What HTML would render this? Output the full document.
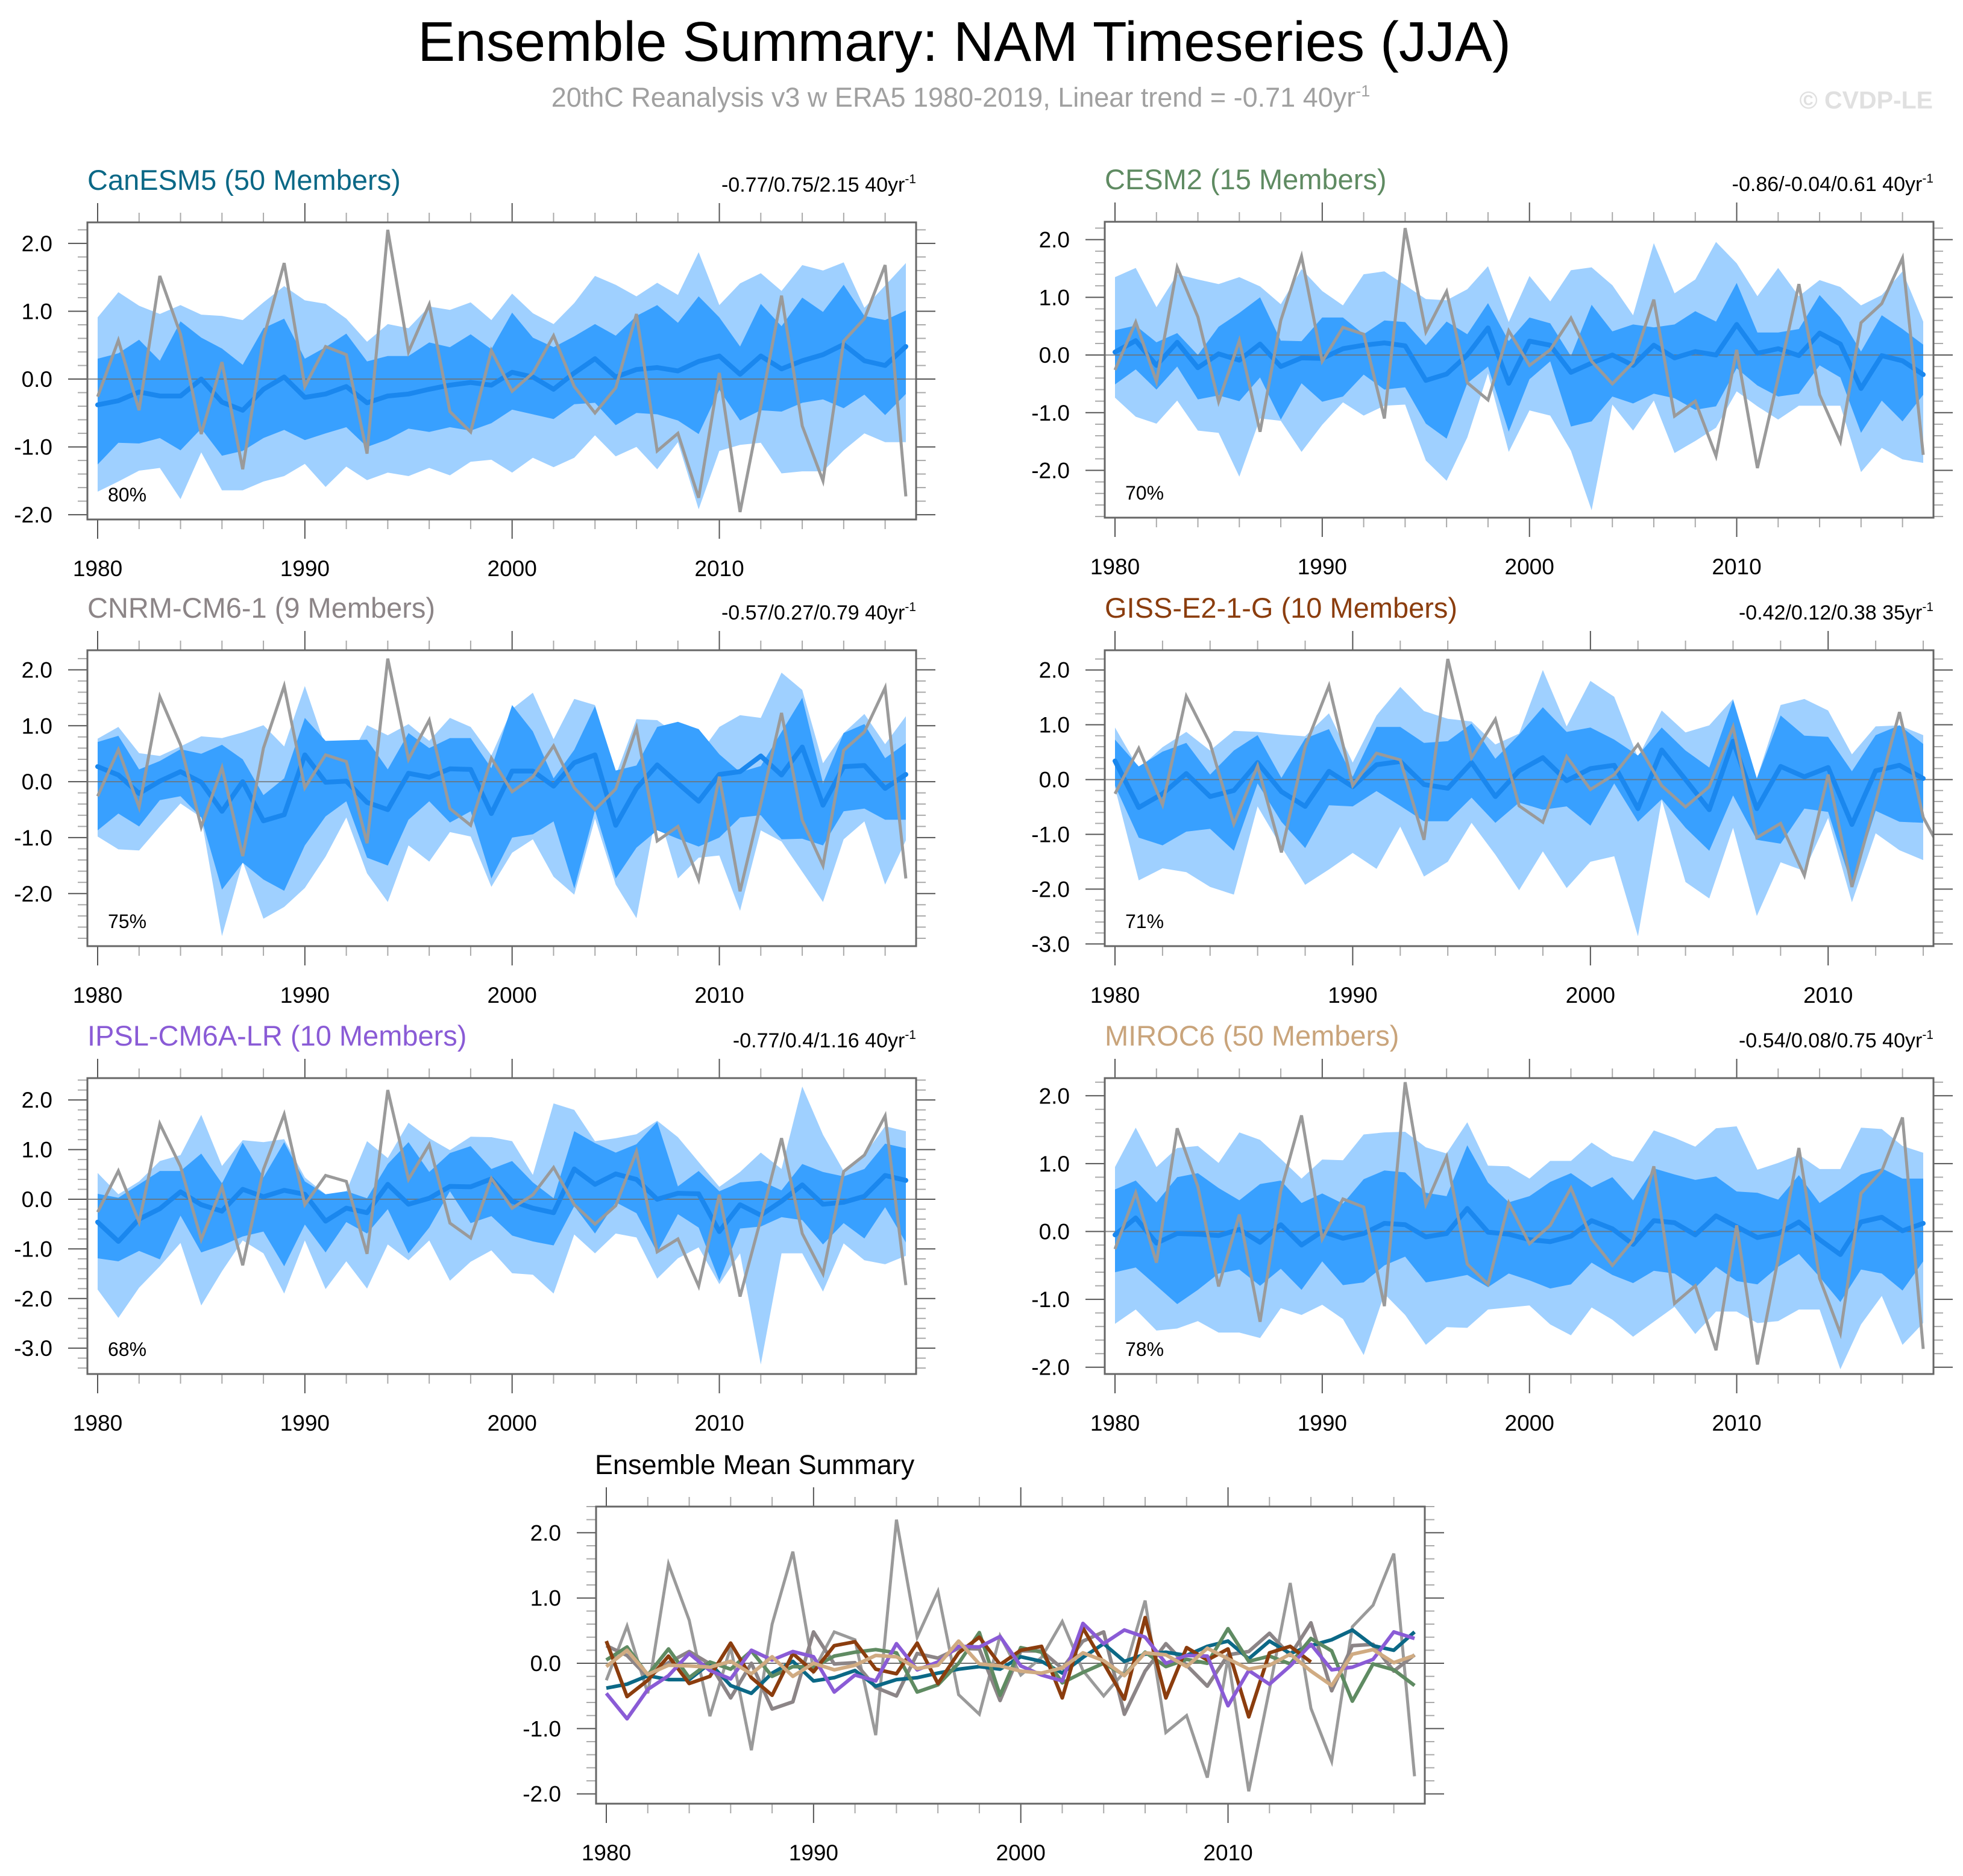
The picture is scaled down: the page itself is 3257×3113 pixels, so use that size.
<!DOCTYPE html>
<html><head><meta charset="utf-8"><title>Ensemble Summary: NAM Timeseries (JJA)</title>
<style>
html,body{margin:0;padding:0;background:#fff;}
svg{display:block;font-family:"Liberation Sans",Arial,sans-serif;}
</style></head>
<body>
<svg id="chart" xmlns="http://www.w3.org/2000/svg" width="3257" height="3113" viewBox="0 0 3257 3113">
<rect x="0" y="0" width="3257" height="3113" fill="#fff"/>
<text x="1600" y="101" font-size="93" text-anchor="middle" fill="#000">Ensemble Summary: NAM Timeseries (JJA)</text>
<text x="1594" y="177" font-size="45" text-anchor="middle" fill="#a0a0a0">20thC Reanalysis v3 w ERA5 1980-2019, Linear trend = -0.71 40yr<tspan dy="-17" font-size="27">-1</tspan></text>
<text x="3207" y="180" font-size="41" font-weight="bold" text-anchor="end" fill="#e0e0e0">© CVDP-LE</text>
<g id="panels"></g>
</svg>
<script>
// ---------- data ----------
const years40 = Array.from({length:40},(_,i)=>1980+i);
const years35 = Array.from({length:35},(_,i)=>1980+i);
const obsValues = [-0.26,0.57,-0.46,1.52,0.66,-0.81,0.25,-1.33,0.6,1.71,-0.11,0.48,0.36,-1.1,2.2,0.4,1.1,-0.48,-0.78,0.42,-0.18,0.09,0.64,-0.11,-0.5,-0.13,0.96,-1.06,-0.8,-1.75,0.09,-1.96,-0.4,1.23,-0.69,-1.5,0.56,0.89,1.68,-1.73];

const canMean = [-0.38,-0.32,-0.19,-0.25,-0.25,0.0,-0.34,-0.46,-0.15,0.03,-0.27,-0.22,-0.11,-0.35,-0.25,-0.22,-0.15,-0.09,-0.05,-0.09,0.10,0.03,-0.15,0.09,0.30,0.03,0.14,0.17,0.12,0.26,0.34,0.07,0.34,0.15,0.27,0.36,0.51,0.27,0.2,0.48];
const canDarkHi = [0.3,0.38,0.58,0.27,0.85,0.61,0.45,0.21,0.75,0.89,0.3,0.47,0.67,0.26,0.34,0.34,0.54,0.47,0.66,0.44,0.98,0.61,0.47,0.63,0.81,0.64,0.93,1.09,0.83,1.22,0.91,0.48,1.11,0.78,1.2,0.99,1.39,0.93,0.87,1.01];
const canDarkLo = [-1.26,-0.94,-0.95,-0.87,-1.05,-0.73,-1.13,-1.06,-0.87,-0.75,-0.9,-0.8,-0.71,-1.0,-0.89,-0.73,-0.78,-0.71,-0.76,-0.65,-0.45,-0.52,-0.59,-0.37,-0.35,-0.68,-0.5,-0.52,-0.61,-0.81,-0.16,-0.61,-0.46,-0.48,-0.35,-0.3,-0.43,-0.23,-0.53,-0.22];
const canLightHi = [0.91,1.28,1.08,0.96,1.09,0.95,0.93,0.87,1.13,1.37,1.16,1.11,0.89,0.55,0.81,0.75,1.07,1.02,1.13,0.87,1.26,0.97,0.81,1.12,1.52,1.39,1.22,1.42,1.24,1.87,1.09,1.41,1.56,1.3,1.68,1.6,1.72,1.05,1.38,1.71];
const canLightLo = [-1.66,-1.51,-1.35,-1.31,-1.77,-1.08,-1.64,-1.64,-1.51,-1.43,-1.25,-1.59,-1.29,-1.49,-1.38,-1.43,-1.31,-1.42,-1.22,-1.19,-1.38,-1.16,-1.3,-1.16,-0.83,-1.14,-1.0,-1.33,-0.93,-1.92,-1.06,-0.97,-0.94,-1.39,-1.36,-1.36,-1.05,-0.8,-0.93,-0.93];

const cesMean = [0.05,0.25,-0.18,0.22,-0.22,0.02,-0.09,0.19,-0.2,-0.05,-0.06,0.11,0.17,0.21,0.16,-0.44,-0.33,0,0.47,-0.49,0.24,0.17,-0.3,-0.14,0,-0.18,0.17,-0.05,0.06,0,0.53,0.03,0.11,-0.01,0.38,0.19,-0.58,-0.01,-0.1,-0.34];
const cesDarkHi = [0.43,0.51,0.22,0.38,0,0.49,0.73,1.0,0.25,0.24,0.65,0.65,0.36,0.6,0.57,0.17,0.58,0.36,0.9,0.24,0.65,0.55,-0.02,0.87,0.41,0.53,0.48,0.53,0.76,0.58,1.25,0.39,0.39,0.45,1.04,0.65,0.06,0.69,0.45,0.18];
const cesDarkLo = [-0.51,-0.25,-0.6,-0.2,-0.77,-0.7,-0.8,-0.39,-1.12,-0.49,-0.81,-0.72,-0.34,-0.6,-0.56,-1.19,-1.45,-0.49,-0.2,-1.33,-0.42,-0.11,-1.24,-1.15,-0.72,-0.84,-0.67,-0.75,-0.95,-0.89,-0.23,-0.53,-0.72,-0.67,-0.18,-0.39,-1.35,-0.79,-1.15,-0.69];
const cesLightHi = [1.35,1.51,0.83,1.4,1.31,1.23,1.35,1.19,0.88,1.49,1.11,0.86,1.4,1.45,1.21,0.97,0.95,1.14,1.54,0.57,1.37,0.93,1.47,1.52,1.21,0.69,1.94,1.07,1.31,1.96,1.59,1.02,1.51,1.02,1.3,1.18,0.86,1.04,1.45,0.58];
const cesLightLo = [-0.74,-1.07,-1.19,-0.79,-1.31,-1.35,-2.11,-1.1,-1.14,-1.68,-1.21,-0.82,-1.05,-0.88,-0.86,-1.83,-2.18,-1.43,-0.32,-1.68,-0.96,-1.05,-1.66,-2.69,-0.86,-1.31,-0.79,-1.7,-1.49,-1.26,-0.63,-0.89,-1.12,-0.88,-0.88,-0.88,-2.03,-1.61,-1.81,-1.87];

const cnrmMean = [0.27,0.12,-0.21,0.01,0.18,-0.01,-0.53,0,-0.7,-0.59,0.48,-0.01,0.01,-0.37,-0.5,0.15,0.08,0.23,0.22,-0.57,0.19,0.19,-0.08,0.34,0.48,-0.78,-0.12,0.3,-0.03,-0.35,0.13,0.18,0.46,0.12,0.62,-0.42,0.27,0.29,-0.12,0.13];
const cnrmDarkHi = [0.71,0.82,0.22,0.37,0.58,0.5,0.66,0.4,-0.24,0.06,1.14,0.73,0.74,0.75,0.22,0.87,0.6,0.78,0.78,0.24,1.37,0.9,0.06,0.57,1.35,0.2,0.29,0.98,1.07,0.94,0.49,0.17,0.28,0.89,1.5,-0.03,0.87,1.03,0.42,0.69];
const cnrmDarkLo = [-0.87,-0.57,-0.8,-0.33,-0.26,-0.64,-1.93,-1.45,-1.75,-1.95,-1.14,-0.62,-0.35,-1.36,-1.5,-0.68,-0.35,-0.73,-0.53,-1.73,-1.0,-0.94,-0.71,-1.91,-0.51,-1.73,-1.18,-0.87,-1.02,-1.16,-1.0,-0.64,-0.6,-1.03,-1.02,-1.14,-0.53,-0.48,-0.68,-0.68];
const cnrmLightHi = [0.77,0.98,0.51,0.46,0.63,0.81,0.78,0.88,1.01,0.63,1.71,0.62,0.31,1.01,0.83,1.03,0.73,1.14,0.98,0.47,1.3,1.59,0.76,1.48,1.37,0.11,1.12,1.1,0.83,0.47,0.98,1.19,1.14,1.95,1.64,0.33,0.87,1.21,0.67,1.17];
const cnrmLightLo = [-0.98,-1.21,-1.23,-0.8,-0.39,-0.64,-2.76,-1.43,-2.45,-2.24,-1.9,-1.34,-0.64,-1.64,-2.15,-1.14,-1.43,-0.9,-0.98,-1.88,-1.27,-1.03,-1.7,-2.02,-0.66,-1.84,-2.44,-0.48,-1.73,-1.36,-1.32,-2.31,-0.87,-1.07,-1.61,-2.15,-1.03,-0.71,-1.84,-1.05];

const gissMean = [0.34,-0.51,-0.26,0.11,-0.31,-0.2,0.31,-0.22,-0.49,0.15,-0.13,0.27,0.33,-0.09,-0.16,0.31,-0.31,0.16,0.4,-0.02,0.2,0.26,-0.53,0.54,0,-0.55,0.7,-0.53,0.24,0.05,0.22,-0.82,0.16,0.26,0.02];
const gissDarkHi = [0.73,0.24,0.51,0.67,0.09,0.53,0.81,0.03,0.75,0.92,0.05,0.96,0.96,0.67,0.7,1.02,0.38,0.82,1.32,0.87,0.95,0.73,0.44,0.95,0.53,0.22,1.45,0.02,1.17,0.8,0.78,0.15,0.81,0.99,0.65];
const gissDarkLo = [-0.11,-1.06,-1.2,-0.95,-0.9,-1.3,-0.07,-0.77,-1.25,-0.47,-0.49,-0.21,-0.48,-0.76,-0.76,-0.33,-0.79,-0.42,-0.55,-0.49,-0.84,-0.07,-0.77,-0.36,-0.88,-1.3,-0.29,-1.1,-1.17,-0.53,-0.59,-1.94,-0.57,-0.77,-0.79];
const gissLightHi = [0.95,0.2,0.59,0.87,0.53,0.89,0.87,0.82,0.79,1.21,0.31,1.17,1.69,1.25,1.11,1.06,0.64,0.84,2.0,0.97,1.8,1.51,0.4,1.26,0.86,0.99,1.47,0.02,1.36,1.47,1.26,0.46,0.97,0.99,0.81];
const gissLightLo = [-0.15,-1.84,-1.62,-1.69,-1.96,-2.1,-0.49,-1.23,-1.92,-1.64,-1.34,-1.63,-0.86,-1.77,-1.5,-0.79,-1.37,-2.02,-1.31,-1.98,-1.5,-1.4,-2.86,-0.37,-1.87,-2.17,-0.88,-2.49,-1.51,-1.67,-0.7,-2.24,-0.98,-1.29,-1.47];

const ipslMean = [-0.46,-0.85,-0.4,-0.19,0.15,-0.11,-0.24,0.2,0.05,0.18,0.1,-0.44,-0.18,-0.27,0.3,-0.1,0.02,0.26,0.25,0.41,-0.04,-0.18,-0.27,0.61,0.3,0.51,0.4,0,0.12,0.11,-0.65,-0.11,-0.32,-0.04,0.29,-0.1,-0.06,0.06,0.48,0.38];
const ipslDarkHi = [0.11,0.03,0.3,0.57,0.57,0.92,0.32,1.14,0.44,1.15,0.36,0.1,0.16,0.02,0.71,1.15,0.55,0.93,1.07,0.61,0.77,0.34,0.02,1.37,1.13,0.94,1.11,1.56,0.26,0.57,0.16,0.34,0.37,0.18,0.71,0.55,0.46,0.61,1.12,1.03];
const ipslDarkLo = [-1.19,-1.25,-1.04,-1.21,-0.33,-1.07,-0.93,-0.75,-0.65,-1.35,-0.51,-1.07,-0.46,-0.69,-0.2,-1.09,-0.57,0.16,-0.48,-0.34,-0.73,-0.85,-0.93,-0.14,-0.69,-0.06,-0.28,-1.07,-0.3,-0.57,-1.64,-0.59,-0.55,-0.36,-0.42,-0.91,-0.48,-0.79,-0.16,-0.87];
const ipslLightHi = [0.53,0.1,0.36,0.77,0.89,1.7,0.67,1.19,1.15,1.21,0.44,0.1,0.16,1.17,0.83,1.54,1.23,0.99,1.26,1.25,1.17,0.49,1.93,1.8,1.17,1.23,1.31,1.58,1.25,0.75,0.25,0.55,0.94,0.61,2.27,1.3,0.57,0.9,1.47,1.37];
const ipslLightLo = [-1.82,-2.39,-1.78,-1.35,-0.88,-2.14,-1.45,-0.83,-1.09,-1.9,-0.83,-1.81,-1.25,-1.8,-0.91,-1.23,-0.83,-1.64,-1.26,-1.03,-1.49,-1.52,-1.9,-0.71,-1.09,-0.69,-0.77,-1.6,-1.19,-0.97,-1.71,-1.09,-3.33,-1.09,-1.09,-1.86,-0.89,-1.23,-1.31,-1.14];

const mirMean = [-0.05,0.2,-0.17,-0.03,-0.04,-0.06,0.03,-0.16,0.1,-0.2,0,-0.1,-0.03,0.12,0.1,-0.08,-0.03,0.34,-0.01,-0.04,-0.12,-0.15,-0.07,0.16,0.04,-0.19,0.16,0.13,-0.05,0.23,0.07,-0.09,-0.03,0.14,-0.12,-0.34,0.14,0.21,0.01,0.12];
const mirDarkHi = [0.62,0.75,0.43,0.8,0.86,0.64,0.46,0.7,0.75,0.42,0.56,0.41,0.77,0.9,0.87,0.57,0.52,1.27,0.72,0.43,0.52,0.73,0.86,0.65,0.8,0.46,0.93,0.84,0.76,0.81,0.59,0.57,0.47,0.83,0.42,0.62,0.84,0.93,0.78,0.78];
const mirDarkLo = [-0.6,-0.53,-0.8,-1.07,-0.86,-0.62,-0.56,-0.8,-0.55,-0.86,-0.44,-0.79,-0.75,-0.5,-0.37,-0.75,-0.7,-0.64,-0.82,-0.62,-0.72,-0.84,-0.78,-0.46,-0.64,-0.76,-0.58,-0.62,-0.83,-0.52,-0.73,-0.78,-0.52,-0.33,-0.67,-1.04,-0.56,-0.62,-0.87,-0.44];
const mirLightHi = [0.95,1.53,0.95,1.23,1.26,1.01,1.46,1.35,1.07,0.78,1.06,1.05,1.43,1.46,1.47,1.24,1.15,1.61,0.97,0.96,0.78,1.04,1.04,1.31,1.11,1.03,1.49,1.38,1.25,1.52,1.55,0.91,1.01,1.13,0.92,0.92,1.53,1.51,1.26,1.16];
const mirLightLo = [-1.36,-1.15,-1.46,-1.43,-1.32,-1.49,-1.49,-1.57,-1.13,-1.23,-1.08,-1.29,-1.82,-0.92,-1.23,-1.67,-1.41,-1.42,-1.15,-1.12,-1.09,-1.37,-1.53,-1.12,-1.3,-1.55,-1.33,-1.11,-1.51,-1.18,-1.18,-1.35,-1.32,-1.15,-1.15,-2.03,-1.37,-0.95,-1.67,-1.35];

const yTickValues = [2,1,0,-1,-2,-3];
const xTickYears = [1980,1990,2000,2010];
const panelTitles = ["CanESM5 (50 Members)","CESM2 (15 Members)","CNRM-CM6-1 (9 Members)","GISS-E2-1-G (10 Members)","IPSL-CM6A-LR (10 Members)","MIROC6 (50 Members)"];
const trendLabels = ["-0.77/0.75/2.15 40yr","-0.86/-0.04/0.61 40yr","-0.57/0.27/0.79 40yr","-0.42/0.12/0.38 35yr","-0.77/0.4/1.16 40yr","-0.54/0.08/0.75 40yr"];
const percentLabels = ["80%","70%","75%","71%","68%","78%"];

// ---------- layout / style (not data) ----------
const NS="http://www.w3.org/2000/svg";
const root=document.getElementById('panels');
function mk(tag,attrs,parent){const e=document.createElementNS(NS,tag);for(const k in attrs)e.setAttribute(k,attrs[k]);(parent||root).appendChild(e);return e;}

const panels=[
 {key:'canesm5',x0:145,x1:1520,y0:369,y1:862,ymin:-2.07,ymax:2.31,yrs:years40,color:'#0b6886',m:canMean,dh:canDarkHi,dl:canDarkLo,lh:canLightHi,ll:canLightLo,ti:0},
 {key:'cesm2',x0:1833,x1:3208,y0:368,y1:859,ymin:-2.82,ymax:2.31,yrs:years40,color:'#5f8b62',m:cesMean,dh:cesDarkHi,dl:cesDarkLo,lh:cesLightHi,ll:cesLightLo,ti:1},
 {key:'cnrm-cm6-1',x0:145,x1:1520,y0:1079,y1:1570,ymin:-2.94,ymax:2.35,yrs:years40,color:'#8c8587',m:cnrmMean,dh:cnrmDarkHi,dl:cnrmDarkLo,lh:cnrmLightHi,ll:cnrmLightLo,ti:2},
 {key:'giss-e2-1-g',x0:1833,x1:3208,y0:1079,y1:1570,ymin:-3.04,ymax:2.36,yrs:years35,color:'#8b3d0e',m:gissMean,dh:gissDarkHi,dl:gissDarkLo,lh:gissLightHi,ll:gissLightLo,ti:3},
 {key:'ipsl-cm6a-lr',x0:145,x1:1520,y0:1789,y1:2280,ymin:-3.52,ymax:2.44,yrs:years40,color:'#8a5bd6',m:ipslMean,dh:ipslDarkHi,dl:ipslDarkLo,lh:ipslLightHi,ll:ipslLightLo,ti:4},
 {key:'miroc6',x0:1833,x1:3208,y0:1789,y1:2280,ymin:-2.10,ymax:2.26,yrs:years40,color:'#c9a47b',m:mirMean,dh:mirDarkHi,dl:mirDarkLo,lh:mirLightHi,ll:mirLightLo,ti:5}
];
const PAD=17;

function scales(p){
  const yr0=p.yrs[0], yr1=p.yrs[p.yrs.length-1];
  const sx=y=>p.x0+PAD+(y-yr0)*(p.x1-p.x0-2*PAD)/(yr1-yr0);
  const sy=v=>p.y1-(v-p.ymin)*(p.y1-p.y0)/(p.ymax-p.ymin);
  return {sx,sy};
}
function pathFrom(xs,vals,sx,sy){return vals.map((v,i)=>(i?'L':'M')+sx(xs[i]).toFixed(1)+','+sy(v).toFixed(1)).join(' ');}
function bandPath(xs,hi,lo,sx,sy){
  let d=pathFrom(xs,hi,sx,sy);
  for(let i=lo.length-1;i>=0;i--)d+=' L'+sx(xs[i]).toFixed(1)+','+sy(lo[i]).toFixed(1);
  return d+' Z';
}

function drawAxes(p,g,sx,sy){
  const yr0=p.yrs[0];
  const lastYr=yr0+(p.x1-PAD-p.x0-PAD)/((sx(yr0+1)-sx(yr0)))+0.5;
  for(let y=1980;y<=lastYr;y+=2){
    const x=sx(y); const major=(y%10===0);
    const L=major?32:16; const col=major?'#555':'#aaa';
    const t1=mk('line',{x1:x,y1:p.y0,x2:x,y2:p.y0-L,stroke:col,'stroke-width':2},g);
    
    
    const t2=mk('line',{x1:x,y1:p.y1,x2:x,y2:p.y1+L,stroke:col,'stroke-width':2},g);
    
    
  }
  xTickYears.forEach(y=>{
    const t=mk('text',{x:sx(y),y:p.y1+94,'font-size':37,'text-anchor':'middle',fill:'#000'},g);
    t.textContent=String(y);
    
    
  });
  for(let k=Math.ceil(p.ymin*5);k<=Math.floor(p.ymax*5);k++){
    const v=k/5; const yy=sy(v); const major=(k%5===0);
    const L=major?32:16; const col=major?'#555':'#aaa';
    const a=mk('line',{x1:p.x0,y1:yy,x2:p.x0-L,y2:yy,stroke:col,'stroke-width':2},g);
    
    
    const b=mk('line',{x1:p.x1,y1:yy,x2:p.x1+L,y2:yy,stroke:col,'stroke-width':2},g);
    
    
  }
  yTickValues.filter(v=>v>=p.ymin&&v<=p.ymax).forEach(v=>{
    const t=mk('text',{x:p.x0-58,y:sy(v)+13,'font-size':37,'text-anchor':'end',fill:'#000'},g);
    t.textContent=v.toFixed(1);
    
    
  });
  const box=mk('rect',{x:p.x0,y:p.y0,width:p.x1-p.x0,height:p.y1-p.y0,fill:'none',stroke:'#666','stroke-width':3},g);
  
  
}

panels.forEach((p,pi)=>{
  const g=mk('g',{});
  
  
  const {sx,sy}=scales(p);
  const cid='clip'+pi;
  const cp=mk('clipPath',{id:cid},g); mk('rect',{x:p.x0,y:p.y0,width:p.x1-p.x0,height:p.y1-p.y0},cp);
  const pg=mk('g',{'clip-path':'url(#'+cid+')'},g);
  
  
  const lb=mk('path',{d:bandPath(p.yrs,p.lh,p.ll,sx,sy),fill:'#9fd0ff'},pg);
  
  
  const db=mk('path',{d:bandPath(p.yrs,p.dh,p.dl,sx,sy),fill:'#38a0ff'},pg);
  
  
  const z=mk('line',{x1:p.x0,x2:p.x1,y1:sy(0),y2:sy(0),stroke:'#707070','stroke-width':2,'stroke-opacity':0.8},pg);
  
  
  const ml=mk('path',{d:pathFrom(p.yrs,p.m,sx,sy),fill:'none',stroke:'#1a87ee','stroke-width':8,'stroke-linejoin':'round','stroke-linecap':'round'},pg);
  
  
  const ol=mk('path',{d:pathFrom(years40,obsValues,sx,sy),fill:'none',stroke:'#9a9a9a','stroke-width':5,'stroke-linejoin':'miter'},pg);
  
  
  drawAxes(p,g,sx,sy);
  const t=mk('text',{x:p.x0,y:p.y0-54,'font-size':47,fill:p.color},g);
  t.textContent=panelTitles[p.ti];
  
  
  const tr=mk('text',{x:p.x1,y:p.y0-51,'font-size':34,'text-anchor':'end',fill:'#000'},g);
  tr.textContent=trendLabels[p.ti];
  const sup=mk('tspan',{dy:-14,'font-size':21},tr); sup.textContent='-1';
  
  
  const pc=mk('text',{x:p.x0+34,y:p.y1-30,'font-size':32,fill:'#000'},g);
  pc.textContent=percentLabels[p.ti];
  
  
});

// ---------- summary panel ----------
(function(){
  const p={x0:989,x1:2364,y0:2500,y1:2993,ymin:-2.15,ymax:2.40,yrs:years40};
  const g=mk('g',{});
  
  
  const {sx,sy}=scales(p);
  const cp=mk('clipPath',{id:'clipS'},g); mk('rect',{x:p.x0,y:p.y0,width:p.x1-p.x0,height:p.y1-p.y0},cp);
  const pg=mk('g',{'clip-path':'url(#clipS)'},g);
  
  
  const z=mk('line',{x1:p.x0,x2:p.x1,y1:sy(0),y2:sy(0),stroke:'#707070','stroke-width':2},pg);
  
  
  const ol=mk('path',{d:pathFrom(years40,obsValues,sx,sy),fill:'none',stroke:'#9a9a9a','stroke-width':5},pg);
  
  
  const series=[[cnrmMean,years40,'#8c8587','cnrm'],[canMean,years40,'#0b6886','canesm5'],[cesMean,years40,'#5f8b62','cesm2'],[gissMean,years35,'#8b3d0e','giss'],[ipslMean,years40,'#8a5bd6','ipsl'],[mirMean,years40,'#d0ab82','miroc6']];
  series.forEach(s=>{
    const l=mk('path',{d:pathFrom(s[1],s[0],sx,sy),fill:'none',stroke:s[2],'stroke-width':6,'stroke-linejoin':'round'},pg);
    
    
  });
  drawAxes(p,g,sx,sy);
  const t=mk('text',{x:987,y:2446,'font-size':45,fill:'#000'},g);
  t.textContent='Ensemble Mean Summary';
  
  
})();
</script>
</body></html>
